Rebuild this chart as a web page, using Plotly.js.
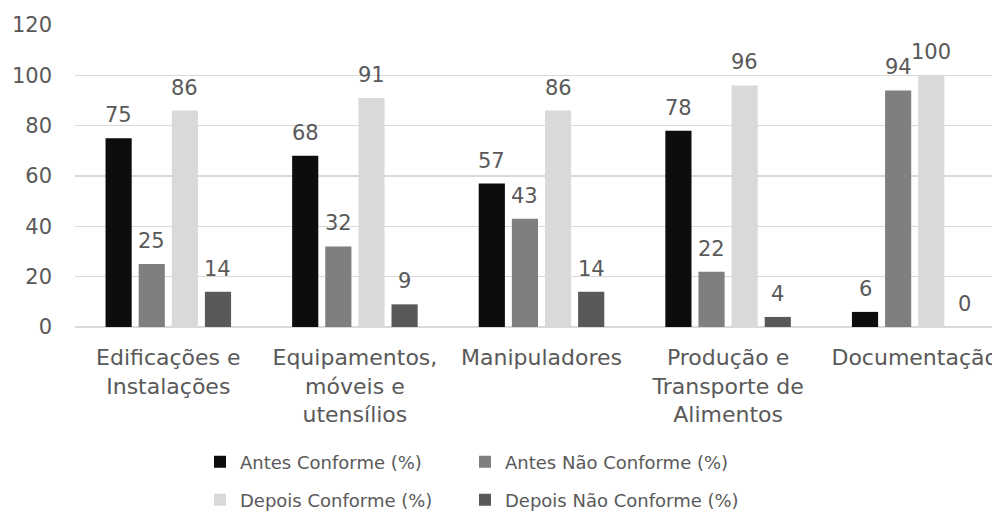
<!DOCTYPE html>
<html><head><meta charset="utf-8">
<script src="https://cdn.plot.ly/plotly-3.0.1.min.js"></script>
<style>html,body{margin:0;padding:0;background:#fff;overflow:hidden}#chart{width:1008px;height:513px}</style>
</head><body><div id="chart"></div>
<script>
const categories = ["Edificações e<br>Instalações", "Equipamentos,<br>móveis e<br>utensílios", "Manipuladores", "Produção e<br>Transporte de<br>Alimentos", "Documentação"];
const seriesNames = ["Antes Conforme (%)", "Antes Não Conforme (%)", "Depois Conforme (%)", "Depois Não Conforme (%)"];
const antesConforme = [75, 68, 57, 78, 6];
const antesNaoConforme = [25, 32, 43, 22, 94];
const depoisConforme = [86, 91, 86, 96, 100];
const depoisNaoConforme = [14, 9, 14, 4, 0];
const yTicks = [0, 20, 40, 60, 80, 100, 120];

const colors = ["#0d0d0d", "#7f7f7f", "#d9d9d9", "#595959"];
const values = [antesConforme, antesNaoConforme, depoisConforme, depoisNaoConforme];
const legendIds = ["legend", "legend2", "legend3", "legend4"];
const F = "DejaVu Sans";
const BARGAP = 0.29;
const traces = values.map((v, i) => ({
  type: "bar", x: categories, y: v, name: seriesNames[i],
  marker: {color: colors[i]}, legend: legendIds[i], hoverinfo: "none"
}));
// value labels placed above each bar through the axes
const annotations = [];
values.forEach((v, si) => {
  v.forEach((val, ci) => {
    annotations.push({
      xref: "x", yref: "y", x: ci + (si - 1.5) * (1 - BARGAP) / 4, y: val,
      text: String(val), showarrow: false, yanchor: "middle", yshift: 23,
      font: {family: F, size: 21, color: "#595959"}
    });
  });
});
const W = 1008;
const legendBase = {orientation: "h", xref: "container", yref: "container", xanchor: "left",
  yanchor: "middle", font: {family: F, size: 18, color: "#595959"}, bgcolor: "rgba(0,0,0,0)"};
const legendPos = [[200, 0.0994], [465, 0.0994], [200, 0.0253], [465, 0.0253]];
const layout = {
  width: W, height: 513, margin: {l: 75, r: 0, t: 24.5, b: 186},
  paper_bgcolor: "#fff", plot_bgcolor: "#fff", barmode: "group", bargap: BARGAP, bargroupgap: 0.21,
  font: {family: F, color: "#595959"},
  xaxis: {tickfont: {family: F, size: 22, color: "#595959"}, showline: false, ticks: "", fixedrange: true,
    ticklabelstandoff: 15},
  yaxis: {range: [0, 120], tickvals: yTicks, ticktext: yTicks.map(String), showgrid: true, gridcolor: "#d9d9d9",
    gridwidth: 1.5, zeroline: true, zerolinecolor: "#d9d9d9", zerolinewidth: 1.5,
    tickfont: {family: F, size: 21, color: "#595959"}, ticks: "", ticklabelstandoff: 22, fixedrange: true},
  annotations: annotations,
  showlegend: true
};
legendIds.forEach((id, i) => {
  layout[id] = Object.assign({}, legendBase, {x: legendPos[i][0] / W, y: legendPos[i][1]});
});
Plotly.newPlot("chart", traces, layout, {displayModeBar: false, staticPlot: true});
</script></body></html>
